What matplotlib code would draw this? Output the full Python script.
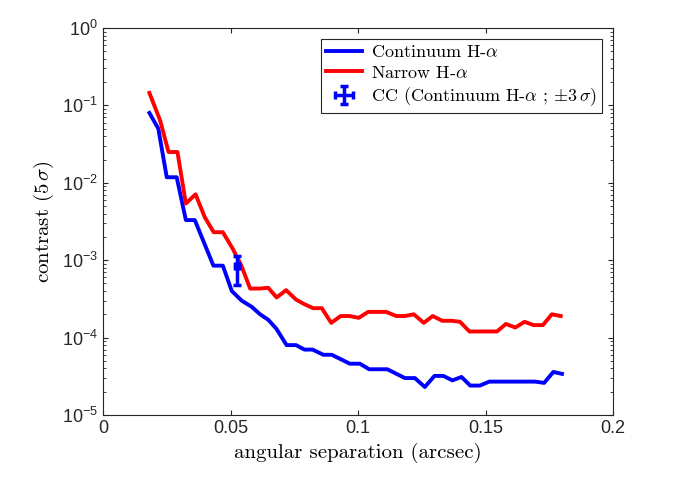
import matplotlib
matplotlib.use("Agg")
import matplotlib.pyplot as plt
import numpy as np

blue_x = [0.0182,0.0217,0.025,0.0289,0.0325,0.036,0.0433,0.047,0.0505,0.0544,0.0583,0.0616,0.0648,0.068,0.072,0.0757,0.079,0.0822,0.0864,0.0897,0.0968,0.1007,0.1044,0.1115,0.1184,0.1223,0.1262,0.130,0.1335,0.137,0.1406,0.144,0.1478,0.1515,0.1694,0.173,0.1766,0.180]
blue_y = [0.080,0.050,0.0118,0.0118,0.0033,0.0033,8.5e-4,8.5e-4,4.0e-4,3.0e-4,2.5e-4,2.0e-4,1.7e-4,1.3e-4,8.0e-5,8.0e-5,7.0e-5,7.0e-5,6.0e-5,6.0e-5,4.6e-5,4.6e-5,3.9e-5,3.9e-5,3.0e-5,3.0e-5,2.3e-5,3.2e-5,3.2e-5,2.8e-5,3.1e-5,2.4e-5,2.4e-5,2.7e-5,2.7e-5,2.6e-5,3.6e-5,3.4e-5]
red_x = [0.0182,0.0224,0.0257,0.0292,0.0325,0.0363,0.0399,0.0434,0.047,0.0509,0.0542,0.0577,0.0613,0.0648,0.0681,0.0718,0.0757,0.079,0.0824,0.0858,0.0895,0.0932,0.0967,0.1003,0.104,0.111,0.115,0.1184,0.1219,0.1258,0.1293,0.133,0.1366,0.140,0.1437,0.1545,0.158,0.1617,0.1653,0.1689,0.1725,0.176,0.1795]
red_y = [0.145,0.064,0.025,0.025,0.0054,0.0071,0.0036,0.0023,0.0023,0.0014,8.6e-4,4.3e-4,4.3e-4,4.4e-4,3.3e-4,4.1e-4,3.1e-4,2.7e-4,2.4e-4,2.4e-4,1.55e-4,1.9e-4,1.9e-4,1.8e-4,2.15e-4,2.15e-4,1.9e-4,1.9e-4,2.0e-4,1.55e-4,1.9e-4,1.65e-4,1.65e-4,1.6e-4,1.2e-4,1.2e-4,1.5e-4,1.35e-4,1.6e-4,1.45e-4,1.45e-4,2.0e-4,1.9e-4]
cc_x = [0.0524]
cc_y = [8.4e-4]
cc_yerr_lo = [3.6e-4]
cc_yerr_hi = [2.8e-4]
cc_xerr = [0.0008]

plt.rcParams['mathtext.fontset'] = 'cm'
plt.rcParams['axes.formatter.use_mathtext'] = True
fig = plt.figure(figsize=(6.74,4.93), dpi=100)
ax = fig.add_axes([103/674, 1-415/493, 510/674, 387/493])
ax.plot(blue_x, blue_y, color='#0000ff', lw=2.8, label=r'Continuum H-$\alpha$')
ax.plot(red_x, red_y, color='#ff0000', lw=2.8, label=r'Narrow H-$\alpha$')
ax.errorbar(cc_x, cc_y, yerr=[cc_yerr_lo, cc_yerr_hi], xerr=[cc_xerr], fmt='none',
            ecolor='#0000ff', elinewidth=2.5, capsize=3, capthick=2.5,
            label=r'CC (Continuum H-$\alpha$ ; $\pm 3\,\sigma$)')
ax.plot(cc_x, cc_y, 's', color='#0000ff', ms=4)
ax.set_yscale('log')
ax.set_xlim(0, 0.2)
ax.set_ylim(1e-5, 1)
ax.set_xticks([0,0.05,0.1,0.15,0.2])
ax.set_xticklabels(['0','0.05','0.1','0.15','0.2'])
ax.tick_params(which='both', direction='in', top=True, right=True, labelsize=13, colors='#262626')
for lab in ax.get_xticklabels() + ax.get_yticklabels():
    lab.set_family('Liberation Sans')
for s in ax.spines.values():
    s.set_color('#262626'); s.set_linewidth(0.8)
serif = {'family': 'cmr10', 'size': 15}
ax.set_xlabel('angular separation (arcsec)', fontdict=serif)
ax.set_ylabel(r'contrast $(5\,\sigma)$', fontdict=serif)
leg = ax.legend(loc='upper right', prop={'family':'cmr10','size':13},
                fancybox=False, edgecolor='#262626', framealpha=1, handlelength=2.0,
                borderaxespad=0.6, labelspacing=0.25, handletextpad=0.5, borderpad=0.3)
leg.get_frame().set_linewidth(0.8)
fig.savefig('out.png', dpi=100)
